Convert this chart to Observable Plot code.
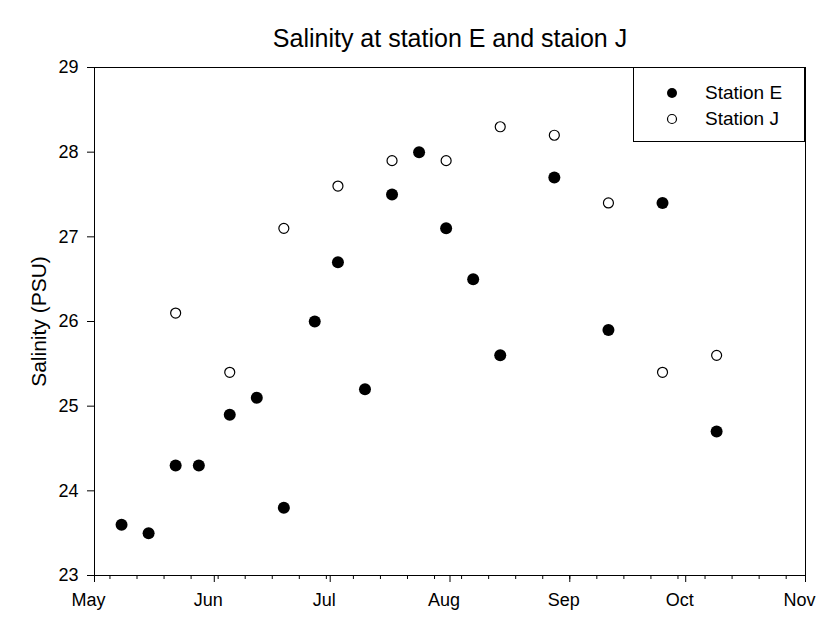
<!DOCTYPE html>
<html>
<head>
<meta charset="utf-8">
<script src="https://cdn.jsdelivr.net/npm/d3@7"></script>
<script src="https://cdn.jsdelivr.net/npm/@observablehq/plot@0.6"></script>
<style>
  body { margin: 0; background: #fff; font-family: "Liberation Sans", Arial, sans-serif; }
  #wrap { position: relative; width: 821px; height: 620px; }
  #legend { position: absolute; left: 633px; top: 67px; width: 172px; height: 75px; box-sizing: border-box;
            border: 1px solid #000; background: #fff; font-size: 19px; color: #000; }
  #legend .item { position: absolute; left: 0; height: 20px; line-height: 20px; }
  #legend svg { position: absolute; left: 28px; top: 0; }
  #legend span { position: absolute; left: 71px; white-space: nowrap; }
</style>
</head>
<body>
<div id="wrap"></div>
<script>
// ---- data ----
const title = "Salinity at station E and staion J";
const yLabel = "Salinity (PSU)";
const seriesNames = ["Station E", "Station J"];

const stationEDates = ["2019-05-08","2019-05-15","2019-05-22","2019-05-28","2019-06-05","2019-06-12","2019-06-19",
  "2019-06-27","2019-07-03","2019-07-10","2019-07-17","2019-07-24","2019-07-31","2019-08-07","2019-08-14",
  "2019-08-28","2019-09-11","2019-09-25","2019-10-09"];
const stationEValues = [23.6,23.5,24.3,24.3,24.9,25.1,23.8,26.0,26.7,25.2,27.5,28.0,27.1,26.5,25.6,27.7,25.9,27.4,24.7];

const stationJDates = ["2019-05-22","2019-06-05","2019-06-19","2019-07-03","2019-07-17","2019-07-31","2019-08-14",
  "2019-08-28","2019-09-11","2019-09-25","2019-10-09"];
const stationJValues = [26.1,25.4,27.1,27.6,27.9,27.9,28.3,28.2,27.4,25.4,25.6];

const xStart = "2019-05-01", xEnd = "2019-11-01";
const monthLabels = ["May","Jun","Jul","Aug","Sep","Oct","Nov"];
const yTicks = [23,24,25,26,27,28,29];

// ---- build ----
const E = stationEDates.map((d, i) => ({date: new Date(d), value: stationEValues[i]}));
const J = stationJDates.map((d, i) => ({date: new Date(d), value: stationJValues[i]}));
const d0 = new Date(xStart), d1 = new Date(xEnd);
const monthTicks = d3.utcMonth.range(d0, d3.utcDay.offset(d1, 1));
const weekTicks = d3.utcWeek.range(d0, d3.utcDay.offset(d1, 1));

const chart = Plot.plot({
  width: 821, height: 620,
  marginLeft: 94, marginRight: 16, marginTop: 67, marginBottom: 45,
  style: {fontFamily: "'Liberation Sans', Arial, sans-serif", fontSize: "18px", color: "#000", background: "#fff", overflow: "visible"},
  x: {type: "utc", domain: [d0, d1], label: null},
  y: {domain: [23, 29], label: null},
  marks: [
    Plot.frame({stroke: "#000", strokeWidth: 1}),
    Plot.axisX({ticks: weekTicks, tickSize: 4, tickFormat: () => "", stroke: "#000", label: null}),
    Plot.axisX({ticks: monthTicks, tickSize: 7, tickFormat: () => "", stroke: "#000", label: null}),
    Plot.text(monthTicks, {x: d => d, text: (d, i) => monthLabels[i], frameAnchor: "bottom", lineAnchor: "top",
      textAnchor: "middle", dy: 18, dx: -6, fontSize: 18, fill: "#000"}),
    Plot.axisY({ticks: yTicks, tickSize: 7, tickPadding: 9, fontSize: 18, stroke: "#000", label: null,
      tickFormat: (d) => String(d)}),
    Plot.text([yLabel], {text: d => d, frameAnchor: "left", textAnchor: "middle", lineAnchor: "middle",
      rotate: -90, dx: -55, fontSize: 21, fill: "#000"}),
    Plot.text([title], {text: d => d, frameAnchor: "top", lineAnchor: "middle", dy: -29, fontSize: 25, fill: "#000"}),
    Plot.dot(E, {x: "date", y: "value", r: 6, fill: "#000", stroke: "none"}),
    Plot.dot(J, {x: "date", y: "value", r: 5, fill: "#fff", stroke: "#000", strokeWidth: 1.2})
  ]
});
const wrap = document.getElementById("wrap");
wrap.appendChild(chart);

// legend
const legend = document.createElement("div");
legend.id = "legend";
const styles = [{fill: "#000", stroke: "none", r: 5}, {fill: "#fff", stroke: "#000", r: 4.5}];
[25, 51].forEach((cy, i) => {
  const item = document.createElement("div");
  item.className = "item";
  item.style.top = (cy - 10) + "px";
  item.style.width = "100%";
  item.innerHTML = `<svg width="20" height="20"><circle cx="10" cy="10" r="${styles[i].r}" fill="${styles[i].fill}" stroke="${styles[i].stroke}" stroke-width="1.2"/></svg><span>${seriesNames[i]}</span>`;
  legend.appendChild(item);
});
wrap.appendChild(legend);
</script>
</body>
</html>
